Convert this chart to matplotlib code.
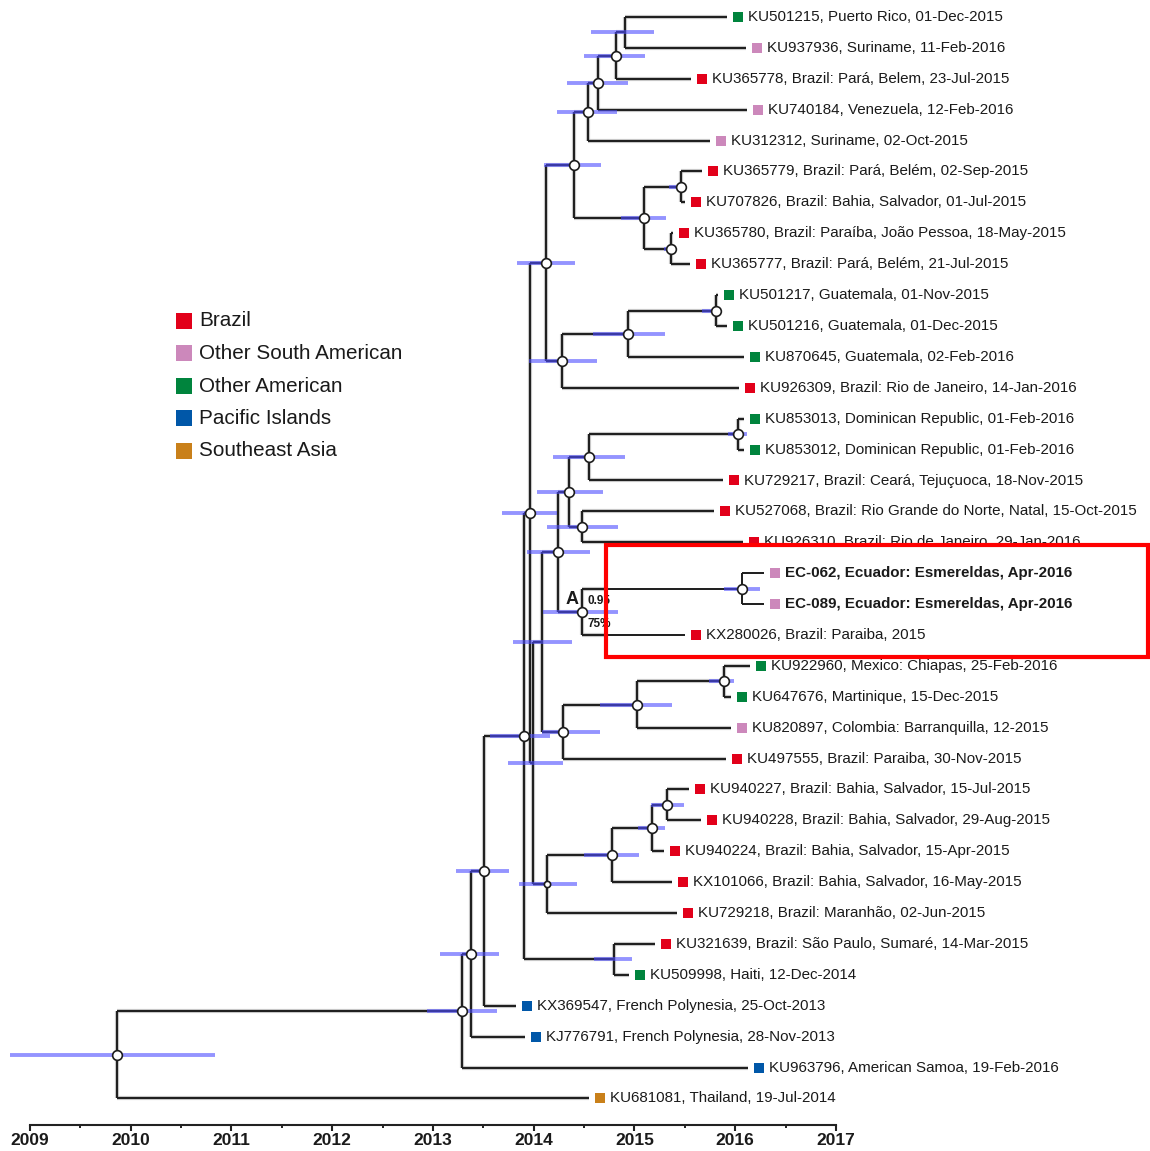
import numpy as np
import matplotlib
matplotlib.use('Agg')
import matplotlib.pyplot as plt
from matplotlib.patches import Rectangle

plt.rcParams['font.family'] = ['Liberation Sans', 'DejaVu Sans']

# tips, top to bottom
tip_labels = [
    'KU501215, Puerto Rico, 01-Dec-2015',
    'KU937936, Suriname, 11-Feb-2016',
    'KU365778, Brazil: Pará, Belem, 23-Jul-2015',
    'KU740184, Venezuela, 12-Feb-2016',
    'KU312312, Suriname, 02-Oct-2015',
    'KU365779, Brazil: Pará, Belém, 02-Sep-2015',
    'KU707826, Brazil: Bahia, Salvador, 01-Jul-2015',
    'KU365780, Brazil: Paraíba, João Pessoa, 18-May-2015',
    'KU365777, Brazil: Pará, Belém, 21-Jul-2015',
    'KU501217, Guatemala, 01-Nov-2015',
    'KU501216, Guatemala, 01-Dec-2015',
    'KU870645, Guatemala, 02-Feb-2016',
    'KU926309, Brazil: Rio de Janeiro, 14-Jan-2016',
    'KU853013, Dominican Republic, 01-Feb-2016',
    'KU853012, Dominican Republic, 01-Feb-2016',
    'KU729217, Brazil: Ceará, Tejuçuoca, 18-Nov-2015',
    'KU527068, Brazil: Rio Grande do Norte, Natal, 15-Oct-2015',
    'KU926310, Brazil: Rio de Janeiro, 29-Jan-2016',
    'EC-062, Ecuador: Esmereldas, Apr-2016',
    'EC-089, Ecuador: Esmereldas, Apr-2016',
    'KX280026, Brazil: Paraiba, 2015',
    'KU922960, Mexico: Chiapas, 25-Feb-2016',
    'KU647676, Martinique, 15-Dec-2015',
    'KU820897, Colombia: Barranquilla, 12-2015',
    'KU497555, Brazil: Paraiba, 30-Nov-2015',
    'KU940227, Brazil: Bahia, Salvador, 15-Jul-2015',
    'KU940228, Brazil: Bahia, Salvador, 29-Aug-2015',
    'KU940224, Brazil: Bahia, Salvador, 15-Apr-2015',
    'KX101066, Brazil: Bahia, Salvador, 16-May-2015',
    'KU729218, Brazil: Maranhão, 02-Jun-2015',
    'KU321639, Brazil: São Paulo, Sumaré, 14-Mar-2015',
    'KU509998, Haiti, 12-Dec-2014',
    'KX369547, French Polynesia, 25-Oct-2013',
    'KJ776791, French Polynesia, 28-Nov-2013',
    'KU963796, American Samoa, 19-Feb-2016',
    'KU681081, Thailand, 19-Jul-2014',
]
tip_region = [2, 1, 0, 1, 1, 0, 0, 0, 0, 2, 2, 2, 0, 2, 2, 0, 0, 0, 1, 1, 0,
              2, 2, 1, 0, 0, 0, 0, 0, 0, 0, 2, 3, 3, 3, 4]
tip_dates = [2015.92, 2016.11, 2015.56, 2016.12, 2015.75, 2015.67, 2015.50,
             2015.38, 2015.55, 2015.83, 2015.92, 2016.09, 2016.04, 2016.09,
             2016.09, 2015.88, 2015.79, 2016.08, 2016.29, 2016.29, 2015.50,
             2016.15, 2015.96, 2015.96, 2015.91, 2015.54, 2015.66, 2015.29,
             2015.37, 2015.42, 2015.20, 2014.95, 2013.82, 2013.91, 2016.13,
             2014.55]
tip_parent = ['n625', 'n625', 'n616', 'n598', 'a', 'n681', 'n681', 'n671',
              'n671', 'n716', 'n716', 'guat', 'd', 'dom', 'dom', 'n589',
              'n582', 'n582', 'ec', 'ec', 'anode', 'n724', 'n724', 'n636',
              'n563', 'n667', 'n667', 'n652', 'n612', 'bahia', 'haiti',
              'haiti', 'n3', 'n2', 'n1', 'root']
bold_tips = ['EC-062', 'EC-089']
hidden_tips = ['KU926310']

# internal nodes: name, parent, age (years), 95% HPD, circle style
node_names = ['root', 'n1', 'n2', 'n3', 'n4', 'n5', 'n6', 'c', 'a', 'n598',
              'n616', 'n625', 'b', 'n681', 'n671', 'd', 'guat', 'n716', 'y',
              'x', 'n558', 'e', 'n589', 'dom', 'n582', 'anode', 'ec', 'n563',
              'n636', 'n724', 'bahia', 'n612', 'n652', 'n667', 'haiti']
node_parent = [None, 'root', 'n1', 'n2', 'n3', 'n4', 'n5', 'n6', 'c', 'a',
               'n598', 'n616', 'c', 'b', 'b', 'n6', 'd', 'guat', 'n5', 'y',
               'x', 'n558', 'e', 'n589', 'e', 'n558', 'anode', 'x', 'n563',
               'n636', 'y', 'bahia', 'n612', 'n652', 'n4']
node_ages = [2009.86, 2013.29, 2013.38, 2013.51, 2013.90, 2013.96, 2014.12,
             2014.40, 2014.54, 2014.64, 2014.82, 2014.91, 2015.09, 2015.46,
             2015.36, 2014.28, 2014.94, 2015.81, 2013.99, 2014.08, 2014.24,
             2014.35, 2014.55, 2016.03, 2014.48, 2014.48, 2016.07, 2014.29,
             2015.02, 2015.89, 2014.13, 2014.78, 2015.17, 2015.32, 2014.80]
hpd_lo = [2008.80, 2012.94, 2013.07, 2013.23, 2013.57, 2013.68, 2013.83,
          2014.10, 2014.23, 2014.33, 2014.50, 2014.57, 2014.87, 2015.34,
          2015.29, 2013.95, 2014.59, 2015.67, 2013.74, 2013.79, 2013.93,
          2014.03, 2014.19, 2015.93, 2014.13, 2014.09, 2015.89, 2014.08,
          2014.66, 2015.74, 2013.85, 2014.50, 2015.03, 2015.16, 2014.60]
hpd_hi = [2010.84, 2013.64, 2013.66, 2013.75, 2014.16, 2014.23, 2014.41,
          2014.67, 2014.83, 2014.94, 2015.10, 2015.19, 2015.31, 2015.50,
          2015.41, 2014.63, 2015.30, 2015.86, 2014.29, 2014.38, 2014.56,
          2014.69, 2014.91, 2016.12, 2014.84, 2014.84, 2016.25, 2014.66,
          2015.37, 2015.99, 2014.43, 2015.04, 2015.30, 2015.49, 2014.98]
node_circle = [1, 1, 1, 1, 1, 1, 1, 1, 1, 1, 1, 0, 1, 1, 1, 1, 1, 1, 0, 0, 1,
               1, 1, 1, 1, 1, 1, 1, 1, 1, 2, 1, 1, 1, 0, 1]

regions = ['Brazil', 'Other South American', 'Other American',
           'Pacific Islands', 'Southeast Asia']
region_colors = ['#e2001a', '#cc88bb', '#00843d', '#0057a8', '#c9801a']

years = list(range(2009, 2018))

# pixel geometry of the picture
PX_YEAR = 100.75     # pixels per year
X0_PX = 30           # pixel of 2009
ROW = 30.9           # pixels between tips
Y0_PX = 17           # pixel of first tip


def px_x(p):
    return p / PX_YEAR


def px_y(p):
    return p / ROW


fig = plt.figure(figsize=(11.5, 11.51), dpi=100)
ax = fig.add_axes([0, 0, 1, 1])
ax.set_xlim(2009 - px_x(X0_PX), 2009 + px_x(1150 - X0_PX))
ax.set_ylim(px_y(1151 - Y0_PX), -px_y(Y0_PX))

# build tree
children = {n: [] for n in node_names}
for i, p in enumerate(tip_parent):
    children[p].append(('tip', i))
for n, p in zip(node_names, node_parent):
    if p is not None:
        children[p].append(('node', n))

node_idx = {n: i for i, n in enumerate(node_names)}
node_y = {}


def get_y(kind, key):
    if kind == 'tip':
        return float(key)
    if key not in node_y:
        ys = [get_y(k, c) for k, c in children[key]]
        node_y[key] = (min(ys) + max(ys)) / 2
    return node_y[key]


def get_x(kind, key):
    return tip_dates[key] if kind == 'tip' else node_ages[node_idx[key]]


get_y('node', 'root')

line_kw = dict(solid_capstyle='butt')
for n in node_names:
    nx = get_x('node', n)
    ys = [get_y(k, c) for k, c in children[n]]
    for lw, col, z in [(3.0, '#9a9a9a', 1), (1.4, '#1c1c1c', 2)]:
        ax.plot([nx, nx], [min(ys), max(ys)], color=col, lw=lw, zorder=z,
                alpha=0.55 if z == 1 else 1, **line_kw)
        for k, c in children[n]:
            ax.plot([nx, get_x(k, c)], [get_y(k, c)] * 2, color=col, lw=lw,
                    zorder=z, alpha=0.55 if z == 1 else 1, **line_kw)

# HPD bars and node circles
for i, n in enumerate(node_names):
    ax.plot([hpd_lo[i], hpd_hi[i]], [node_y[n]] * 2, color=(0.3, 0.3, 1.0),
            alpha=0.6, lw=2.8, zorder=3, solid_capstyle='butt')
    if node_circle[i]:
        ms = 7 if node_circle[i] == 1 else 4.5
        ax.plot(node_ages[i], node_y[n], 'o', ms=ms, mfc='white',
                mec='#1c1c1c', mew=1.2, zorder=4)

# tip squares and labels
for i, lab in enumerate(tip_labels):
    hidden = any(lab.startswith(h) for h in hidden_tips)
    z = 1.4 if hidden else 5
    ax.plot(tip_dates[i] + px_x(11), i, 's', ms=7.8,
            color=region_colors[tip_region[i]], mew=0, zorder=z)
    bold = any(lab.startswith(b) for b in bold_tips)
    ax.text(tip_dates[i] + px_x(21), i, lab, fontsize=10.9,
            weight='bold' if bold else 'normal', color='#1a1a1a',
            va='center', ha='left', zorder=z)

# highlighted clade A
an = node_idx['anode']
ax.text(node_ages[an] - px_x(17), node_y['anode'] - px_y(12), 'A',
        fontsize=13, weight='bold', color='#1a1a1a', va='center', ha='left',
        zorder=6)
ax.text(node_ages[an] + px_x(5), node_y['anode'] - px_y(11), '0.95',
        fontsize=8.5, weight='bold', color='#1a1a1a', va='center', ha='left',
        zorder=6)
ax.text(node_ages[an] + px_x(5), node_y['anode'] + px_y(12), '75%',
        fontsize=8.5, weight='bold', color='#1a1a1a', va='center', ha='left',
        zorder=6)

box_top = tip_labels.index('EC-062, Ecuador: Esmereldas, Apr-2016') - px_y(28)
box_bot = tip_labels.index('KX280026, Brazil: Paraiba, 2015') + px_y(22)
box_left = node_ages[an] + px_x(24)
box_right = 2009 + px_x(1148 - X0_PX)
ax.add_patch(Rectangle((box_left, box_top), box_right - box_left,
                       box_bot - box_top, facecolor='white', edgecolor='none',
                       zorder=1.5))
ax.add_patch(Rectangle((box_left, box_top), box_right - box_left,
                       box_bot - box_top, facecolor='none', edgecolor='#ff0000',
                       lw=3, zorder=10))

# legend
for j, (r, c) in enumerate(zip(regions, region_colors)):
    ly = px_y(321 - Y0_PX + j * 32.5)
    ax.plot(2009 + px_x(183.5 - X0_PX), ly, 's', ms=12, color=c, mew=0)
    ax.text(2009 + px_x(199 - X0_PX), ly, r, fontsize=14.9, color='#1a1a1a',
            va='center', ha='left')

# time axis
for s in ['left', 'right', 'top']:
    ax.spines[s].set_visible(False)
ax.spines['bottom'].set_position(('data', px_y(1125 - Y0_PX)))
ax.spines['bottom'].set_bounds(years[0], years[-1])
ax.spines['bottom'].set_linewidth(1.5)
ax.spines['bottom'].set_color('#222222')
ax.set_yticks([])
ax.set_xticks(years)
ax.set_xticks(np.arange(years[0] + 0.5, years[-1], 1), minor=True)
ax.set_xticklabels([str(y) for y in years], fontsize=12.5, weight='bold',
                   color='#1a1a1a')
ax.tick_params(axis='x', which='major', direction='out', length=4.5,
               width=1.5, color='#222222', pad=1.5)
ax.tick_params(axis='x', which='minor', direction='out', length=2,
               width=1.4, color='#222222')

fig.savefig('out.png', dpi=100)
